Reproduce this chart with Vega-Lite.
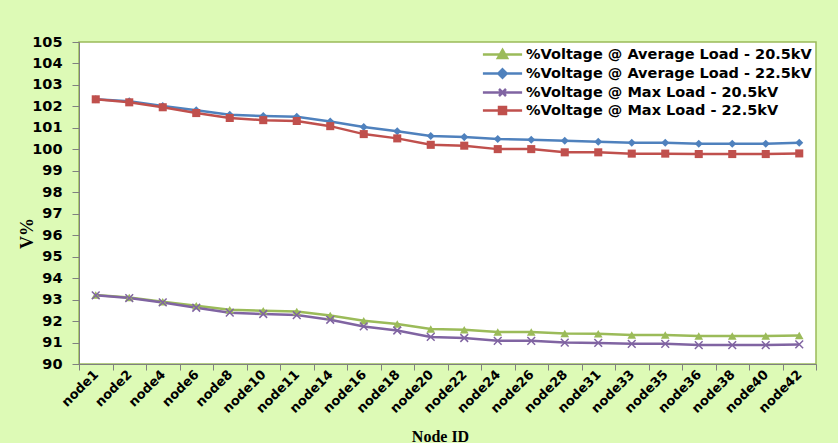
{
  "$schema": "https://vega.github.io/schema/vega-lite/v6.json",
  "width": 737,
  "height": 322,
  "autosize": {"type": "none"},
  "padding": {"left": 79, "top": 42, "right": 22, "bottom": 79},
  "background": "#ddfab6",
  "config": {
    "view": {"fill": "white", "stroke": "#9bbb59", "strokeWidth": 1.5},
    "axis": {
      "labelFont": "DejaVu Sans",
      "labelFontWeight": "bold",
      "labelColor": "black",
      "domainColor": "#7f7f7f",
      "tickColor": "#7f7f7f",
      "grid": false
    }
  },
  "data": {
    "values": [
      {"n": "node1", "s": "%Voltage @ Average Load - 20.5kV", "v": 93.21},
      {"n": "node2", "s": "%Voltage @ Average Load - 20.5kV", "v": 93.1},
      {"n": "node4", "s": "%Voltage @ Average Load - 20.5kV", "v": 92.9},
      {"n": "node6", "s": "%Voltage @ Average Load - 20.5kV", "v": 92.71},
      {"n": "node8", "s": "%Voltage @ Average Load - 20.5kV", "v": 92.53},
      {"n": "node10", "s": "%Voltage @ Average Load - 20.5kV", "v": 92.48},
      {"n": "node11", "s": "%Voltage @ Average Load - 20.5kV", "v": 92.45},
      {"n": "node14", "s": "%Voltage @ Average Load - 20.5kV", "v": 92.26},
      {"n": "node16", "s": "%Voltage @ Average Load - 20.5kV", "v": 92.01},
      {"n": "node18", "s": "%Voltage @ Average Load - 20.5kV", "v": 91.86},
      {"n": "node20", "s": "%Voltage @ Average Load - 20.5kV", "v": 91.63},
      {"n": "node22", "s": "%Voltage @ Average Load - 20.5kV", "v": 91.6},
      {"n": "node24", "s": "%Voltage @ Average Load - 20.5kV", "v": 91.49},
      {"n": "node26", "s": "%Voltage @ Average Load - 20.5kV", "v": 91.49},
      {"n": "node28", "s": "%Voltage @ Average Load - 20.5kV", "v": 91.42},
      {"n": "node31", "s": "%Voltage @ Average Load - 20.5kV", "v": 91.41},
      {"n": "node33", "s": "%Voltage @ Average Load - 20.5kV", "v": 91.35},
      {"n": "node35", "s": "%Voltage @ Average Load - 20.5kV", "v": 91.35},
      {"n": "node36", "s": "%Voltage @ Average Load - 20.5kV", "v": 91.3},
      {"n": "node38", "s": "%Voltage @ Average Load - 20.5kV", "v": 91.3},
      {"n": "node40", "s": "%Voltage @ Average Load - 20.5kV", "v": 91.3},
      {"n": "node42", "s": "%Voltage @ Average Load - 20.5kV", "v": 91.33},
      {"n": "node1", "s": "%Voltage @ Average Load - 22.5kV", "v": 102.33},
      {"n": "node2", "s": "%Voltage @ Average Load - 22.5kV", "v": 102.24},
      {"n": "node4", "s": "%Voltage @ Average Load - 22.5kV", "v": 102.02},
      {"n": "node6", "s": "%Voltage @ Average Load - 22.5kV", "v": 101.82},
      {"n": "node8", "s": "%Voltage @ Average Load - 22.5kV", "v": 101.61},
      {"n": "node10", "s": "%Voltage @ Average Load - 22.5kV", "v": 101.55},
      {"n": "node11", "s": "%Voltage @ Average Load - 22.5kV", "v": 101.52},
      {"n": "node14", "s": "%Voltage @ Average Load - 22.5kV", "v": 101.3},
      {"n": "node16", "s": "%Voltage @ Average Load - 22.5kV", "v": 101.04},
      {"n": "node18", "s": "%Voltage @ Average Load - 22.5kV", "v": 100.84},
      {"n": "node20", "s": "%Voltage @ Average Load - 22.5kV", "v": 100.62},
      {"n": "node22", "s": "%Voltage @ Average Load - 22.5kV", "v": 100.57},
      {"n": "node24", "s": "%Voltage @ Average Load - 22.5kV", "v": 100.48},
      {"n": "node26", "s": "%Voltage @ Average Load - 22.5kV", "v": 100.45},
      {"n": "node28", "s": "%Voltage @ Average Load - 22.5kV", "v": 100.4},
      {"n": "node31", "s": "%Voltage @ Average Load - 22.5kV", "v": 100.35},
      {"n": "node33", "s": "%Voltage @ Average Load - 22.5kV", "v": 100.31},
      {"n": "node35", "s": "%Voltage @ Average Load - 22.5kV", "v": 100.31},
      {"n": "node36", "s": "%Voltage @ Average Load - 22.5kV", "v": 100.26},
      {"n": "node38", "s": "%Voltage @ Average Load - 22.5kV", "v": 100.26},
      {"n": "node40", "s": "%Voltage @ Average Load - 22.5kV", "v": 100.26},
      {"n": "node42", "s": "%Voltage @ Average Load - 22.5kV", "v": 100.31},
      {"n": "node1", "s": "%Voltage @ Max Load - 20.5kV", "v": 93.2},
      {"n": "node2", "s": "%Voltage @ Max Load - 20.5kV", "v": 93.07},
      {"n": "node4", "s": "%Voltage @ Max Load - 20.5kV", "v": 92.87},
      {"n": "node6", "s": "%Voltage @ Max Load - 20.5kV", "v": 92.62},
      {"n": "node8", "s": "%Voltage @ Max Load - 20.5kV", "v": 92.39},
      {"n": "node10", "s": "%Voltage @ Max Load - 20.5kV", "v": 92.33},
      {"n": "node11", "s": "%Voltage @ Max Load - 20.5kV", "v": 92.28},
      {"n": "node14", "s": "%Voltage @ Max Load - 20.5kV", "v": 92.06},
      {"n": "node16", "s": "%Voltage @ Max Load - 20.5kV", "v": 91.75},
      {"n": "node18", "s": "%Voltage @ Max Load - 20.5kV", "v": 91.56},
      {"n": "node20", "s": "%Voltage @ Max Load - 20.5kV", "v": 91.26},
      {"n": "node22", "s": "%Voltage @ Max Load - 20.5kV", "v": 91.21},
      {"n": "node24", "s": "%Voltage @ Max Load - 20.5kV", "v": 91.08},
      {"n": "node26", "s": "%Voltage @ Max Load - 20.5kV", "v": 91.08},
      {"n": "node28", "s": "%Voltage @ Max Load - 20.5kV", "v": 91.0},
      {"n": "node31", "s": "%Voltage @ Max Load - 20.5kV", "v": 90.98},
      {"n": "node33", "s": "%Voltage @ Max Load - 20.5kV", "v": 90.94},
      {"n": "node35", "s": "%Voltage @ Max Load - 20.5kV", "v": 90.94},
      {"n": "node36", "s": "%Voltage @ Max Load - 20.5kV", "v": 90.88},
      {"n": "node38", "s": "%Voltage @ Max Load - 20.5kV", "v": 90.88},
      {"n": "node40", "s": "%Voltage @ Max Load - 20.5kV", "v": 90.88},
      {"n": "node42", "s": "%Voltage @ Max Load - 20.5kV", "v": 90.91},
      {"n": "node1", "s": "%Voltage @ Max Load - 22.5kV", "v": 102.33},
      {"n": "node2", "s": "%Voltage @ Max Load - 22.5kV", "v": 102.19},
      {"n": "node4", "s": "%Voltage @ Max Load - 22.5kV", "v": 101.96},
      {"n": "node6", "s": "%Voltage @ Max Load - 22.5kV", "v": 101.69},
      {"n": "node8", "s": "%Voltage @ Max Load - 22.5kV", "v": 101.46},
      {"n": "node10", "s": "%Voltage @ Max Load - 22.5kV", "v": 101.36},
      {"n": "node11", "s": "%Voltage @ Max Load - 22.5kV", "v": 101.32},
      {"n": "node14", "s": "%Voltage @ Max Load - 22.5kV", "v": 101.08},
      {"n": "node16", "s": "%Voltage @ Max Load - 22.5kV", "v": 100.71},
      {"n": "node18", "s": "%Voltage @ Max Load - 22.5kV", "v": 100.51},
      {"n": "node20", "s": "%Voltage @ Max Load - 22.5kV", "v": 100.21},
      {"n": "node22", "s": "%Voltage @ Max Load - 22.5kV", "v": 100.17},
      {"n": "node24", "s": "%Voltage @ Max Load - 22.5kV", "v": 100.01},
      {"n": "node26", "s": "%Voltage @ Max Load - 22.5kV", "v": 100.01},
      {"n": "node28", "s": "%Voltage @ Max Load - 22.5kV", "v": 99.86},
      {"n": "node31", "s": "%Voltage @ Max Load - 22.5kV", "v": 99.86},
      {"n": "node33", "s": "%Voltage @ Max Load - 22.5kV", "v": 99.8},
      {"n": "node35", "s": "%Voltage @ Max Load - 22.5kV", "v": 99.8},
      {"n": "node36", "s": "%Voltage @ Max Load - 22.5kV", "v": 99.78},
      {"n": "node38", "s": "%Voltage @ Max Load - 22.5kV", "v": 99.78},
      {"n": "node40", "s": "%Voltage @ Max Load - 22.5kV", "v": 99.78},
      {"n": "node42", "s": "%Voltage @ Max Load - 22.5kV", "v": 99.81}
    ]
  },
  "encoding": {
    "x": {
      "field": "n",
      "type": "ordinal",
      "sort": null,
      "bandPosition": 0.5,
      "scale": {"type": "band", "paddingInner": 0, "paddingOuter": 0},
      "axis": {
        "title": "Node ID",
        "titleFont": "Liberation Serif",
        "titleFontSize": 16,
        "titleFontWeight": "bold",
        "titleColor": "black",
        "titleX": 361,
        "titleY": 77,
        "titleBaseline": "alphabetic",
        "labelAngle": -45,
        "labelAlign": "right",
        "labelBaseline": "middle",
        "labelFontSize": 13,
        "labelPadding": 2,
        "tickBand": "extent",
        "tickSize": 6
      }
    },
    "y": {
      "field": "v",
      "type": "quantitative",
      "scale": {"domain": [90, 105], "nice": false, "zero": false},
      "axis": {
        "title": "V%",
        "titleFont": "Liberation Serif",
        "titleFontSize": 18,
        "titleFontWeight": "bold",
        "titleColor": "black",
        "titleAngle": -90,
        "titleX": -47,
        "titleY": 191,
        "titleAlign": "center",
        "titleBaseline": "alphabetic",
        "values": [90, 91, 92, 93, 94, 95, 96, 97, 98, 99, 100, 101, 102, 103, 104, 105],
        "labelFontSize": 14.5,
        "labelPadding": 10,
        "tickSize": 7
      }
    }
  },
  "layer": [
    {
      "mark": {"type": "line", "strokeWidth": 2.5},
      "encoding": {
        "color": {
          "field": "s",
          "type": "nominal",
          "scale": {
            "domain": ["%Voltage @ Average Load - 20.5kV", "%Voltage @ Average Load - 22.5kV", "%Voltage @ Max Load - 20.5kV", "%Voltage @ Max Load - 22.5kV"],
            "range": ["#9bbb59", "#4f81bd", "#8064a2", "#c0504d"]
          },
          "legend": {
            "title": null,
            "orient": "top-right",
            "offset": 4,
            "labelFont": "DejaVu Sans",
            "labelFontWeight": "bold",
            "labelFontSize": 14.5,
            "labelColor": "black",
            "labelLimit": 400,
            "rowPadding": 1,
            "symbolSize": 196,
            "symbolStrokeWidth": 2.5,
            "labelOffset": 15,
            "encode": {
              "symbols": {
                "update": {
                  "shape": {"signal": "datum.value === '%Voltage @ Average Load - 20.5kV' ? 'M-2.8,0H2.8M0,-0.65L0.65,0.5H-0.65Z' : datum.value === '%Voltage @ Average Load - 22.5kV' ? 'M-2.8,0H2.8M0,-0.6L0.6,0L0,0.6L-0.6,0Z' : datum.value === '%Voltage @ Max Load - 20.5kV' ? 'M-2.8,0H2.8M-0.5,-0.5L0.5,0.5M-0.5,0.5L0.5,-0.5' : 'M-2.8,0H2.8M-0.5,-0.5H0.5V0.5H-0.5Z'"},
                  "fill": {"scale": "color", "field": "value"},
                  "stroke": {"scale": "color", "field": "value"},
                  "strokeWidth": {"value": 2.5},
                  "opacity": {"value": 1}
                }
              }
            }
          }
        }
      }
    },
    {
      "transform": [{"filter": "datum.s === '%Voltage @ Average Load - 20.5kV'"}],
      "mark": {"type": "point", "shape": "triangle-up", "filled": true, "size": 75, "color": "#9bbb59", "opacity": 1}
    },
    {
      "transform": [{"filter": "datum.s === '%Voltage @ Average Load - 22.5kV'"}],
      "mark": {"type": "point", "shape": "diamond", "filled": true, "size": 65, "color": "#4f81bd", "opacity": 1}
    },
    {
      "transform": [{"filter": "datum.s === '%Voltage @ Max Load - 20.5kV'"}],
      "mark": {"type": "point", "shape": "M-1,-1L1,1M-1,1L1,-1", "filled": false, "size": 60, "strokeWidth": 1.5, "color": "#8064a2", "opacity": 1}
    },
    {
      "transform": [{"filter": "datum.s === '%Voltage @ Max Load - 22.5kV'"}],
      "mark": {"type": "point", "shape": "square", "filled": true, "size": 65, "color": "#c0504d", "opacity": 1}
    }
  ]
}
